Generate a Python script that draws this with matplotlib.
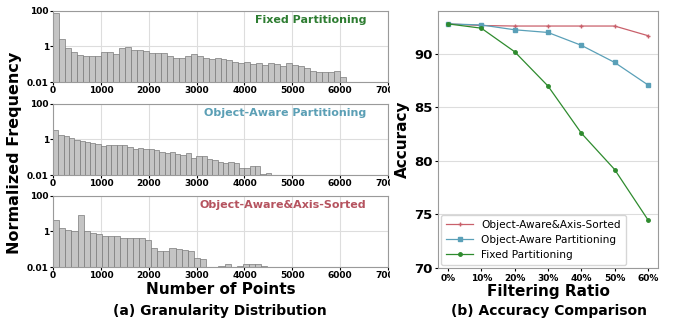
import numpy as np
import matplotlib
matplotlib.use("Agg")
import matplotlib.pyplot as plt
from matplotlib.transforms import Bbox, TransformedBbox

# 直方图数据（每个柱子的归一化频率）
fixed_bin = 125
fixed_freq = [75, 2.6, 0.8, 0.45, 0.33, 0.28, 0.28, 0.28, 0.45, 0.45,
              0.38, 0.85, 0.95, 0.65, 0.6, 0.55, 0.42, 0.42, 0.4, 0.3,
              0.22, 0.22, 0.28, 0.35, 0.28, 0.22, 0.2, 0.22, 0.2, 0.16,
              0.13, 0.12, 0.13, 0.1, 0.12, 0.09, 0.11, 0.1, 0.08, 0.12,
              0.09, 0.08, 0.06, 0.04, 0.035, 0.035, 0.035, 0.04, 0.018]

oa_bin = 111
oa_freq = [3.2, 1.8, 1.5, 1.15, 0.87, 0.77, 0.71, 0.65, 0.53, 0.41,
           0.45, 0.47, 0.47, 0.45, 0.37, 0.3, 0.34, 0.3, 0.28, 0.24,
           0.19, 0.18, 0.19, 0.15, 0.14, 0.16, 0.085, 0.12, 0.12, 0.075,
           0.07, 0.055, 0.05, 0.055, 0.045, 0.026, 0.025, 0.032, 0.03, 0.012,
           0.013]

oas_bin = 128
oas_freq = [4.1, 1.6, 1.2, 1.05, 8.5, 1.0, 0.81, 0.74, 0.55, 0.55,
            0.55, 0.43, 0.43, 0.43, 0.43, 0.32, 0.12, 0.08, 0.08, 0.11,
            0.1, 0.09, 0.078, 0.03, 0.028, 0, 0, 0.012, 0.014, 0,
            0.012, 0.015, 0.015, 0.014, 0.011]

# 准确率数据
ratios = ["0%", "10%", "20%", "30%", "40%", "50%", "60%"]
acc_oas = [92.8, 92.65, 92.6, 92.6, 92.6, 92.6, 91.7]
acc_oa = [92.8, 92.7, 92.25, 92.0, 90.8, 89.2, 87.1]
acc_fixed = [92.8, 92.4, 90.2, 87.0, 82.6, 79.2, 74.5]

c_red = "#c9606b"
c_blue = "#5aa0b8"
c_green = "#2e8b2e"

fig = plt.figure(figsize=(6.76, 3.22), dpi=100)

# 左边三个直方图
hist_list = [
    (fixed_freq, fixed_bin, "Fixed Partitioning", "#2e7d32"),
    (oa_freq, oa_bin, "Object-Aware Partitioning", "#5b9fb5"),
    (oas_freq, oas_bin, "Object-Aware&Axis-Sorted", "#b5535f"),
]
bottoms = [0.7453, 0.4565, 0.1708]
clip = TransformedBbox(Bbox([[0, 0], [390 / 676, 1]]), fig.transFigure)

for (freq, width, name, col), b in zip(hist_list, bottoms):
    ax = fig.add_axes([0.0784, b, 0.4956, 0.2220])
    freq = np.array(freq, dtype=float)
    edges = np.arange(len(freq)) * width
    ax.bar(edges, freq, width=width, align="edge", color="#c4c4c4",
           edgecolor="#7a7a7a", linewidth=0.5, zorder=2)
    ax.set_yscale("log")
    ax.set_ylim(0.01, 100)
    ax.set_xlim(0, 7000)
    ax.set_yticks([0.01, 1, 100])
    ax.set_yticklabels(["0.01", "1", "100"])
    ax.minorticks_off()
    ax.set_xticks(range(0, 7001, 1000))
    ax.grid(True, color="#dddddd", linewidth=0.8, zorder=0)
    ax.set_axisbelow(True)
    ax.tick_params(labelsize=6.5, length=2, pad=1)
    for lab in ax.get_xticklabels() + ax.get_yticklabels():
        lab.set_fontweight("bold")
    # 右边的7000被裁掉一半，和原图一样
    for t in ax.xaxis.get_major_ticks():
        t.label1.set_clip_on(True)
        t.label1.set_clip_box(clip)
    for s in ax.spines.values():
        s.set_color("#9a9a9a")
    ax.text(0.935, 0.87, name, transform=ax.transAxes, ha="right", va="center",
            color=col, fontsize=8, fontweight="bold")
    if b == bottoms[2]:
        ax.set_xlabel("Number of Points", fontsize=11, fontweight="bold", labelpad=1)

fig.text(0.022, 0.525, "Normalized Frequency", rotation=90, ha="center",
         va="center", fontsize=11.5, fontweight="bold")
fig.text(0.325, 0.035, "(a) Granularity Distribution", ha="center",
         va="center", fontsize=10, fontweight="bold")

# 右边准确率折线图
ax2 = fig.add_axes([0.6479, 0.1677, 0.3254, 0.798])
x = np.arange(len(ratios))
ax2.plot(x, acc_oas, color=c_red, marker="+", markersize=3, linewidth=0.9,
         label="Object-Aware&Axis-Sorted")
ax2.plot(x, acc_oa, color=c_blue, marker="s", markersize=2.5, linewidth=0.9,
         label="Object-Aware Partitioning")
ax2.plot(x, acc_fixed, color=c_green, marker="o", markersize=2.5, linewidth=0.9,
         label="Fixed Partitioning")
ax2.set_xlim(-0.3, 6.3)
ax2.set_ylim(70, 94)
ax2.set_xticks(x)
ax2.set_xticklabels(ratios)
ax2.set_yticks([70, 75, 80, 85, 90])
ax2.grid(True, axis="y", color="#dddddd", linewidth=0.8)
ax2.set_axisbelow(True)
ax2.tick_params(axis="x", labelsize=6.5, length=2, pad=2)
ax2.tick_params(axis="y", labelsize=9.5, length=2, pad=2)
for lab in ax2.get_xticklabels() + ax2.get_yticklabels():
    lab.set_fontweight("bold")
for s in ax2.spines.values():
    s.set_color("#9a9a9a")
ax2.set_xlabel("Filtering Ratio", fontsize=11, fontweight="bold", labelpad=1)
ax2.set_ylabel("Accuracy", fontsize=11, fontweight="bold", labelpad=3)
ax2.legend(loc="lower left", fontsize=7.6, frameon=True, handlelength=2.5,
           borderaxespad=0.3, labelspacing=0.45, borderpad=0.5)

fig.text(0.8125, 0.035, "(b) Accuracy Comparison", ha="center",
         va="center", fontsize=10, fontweight="bold")

plt.savefig("out.png", dpi=100)
